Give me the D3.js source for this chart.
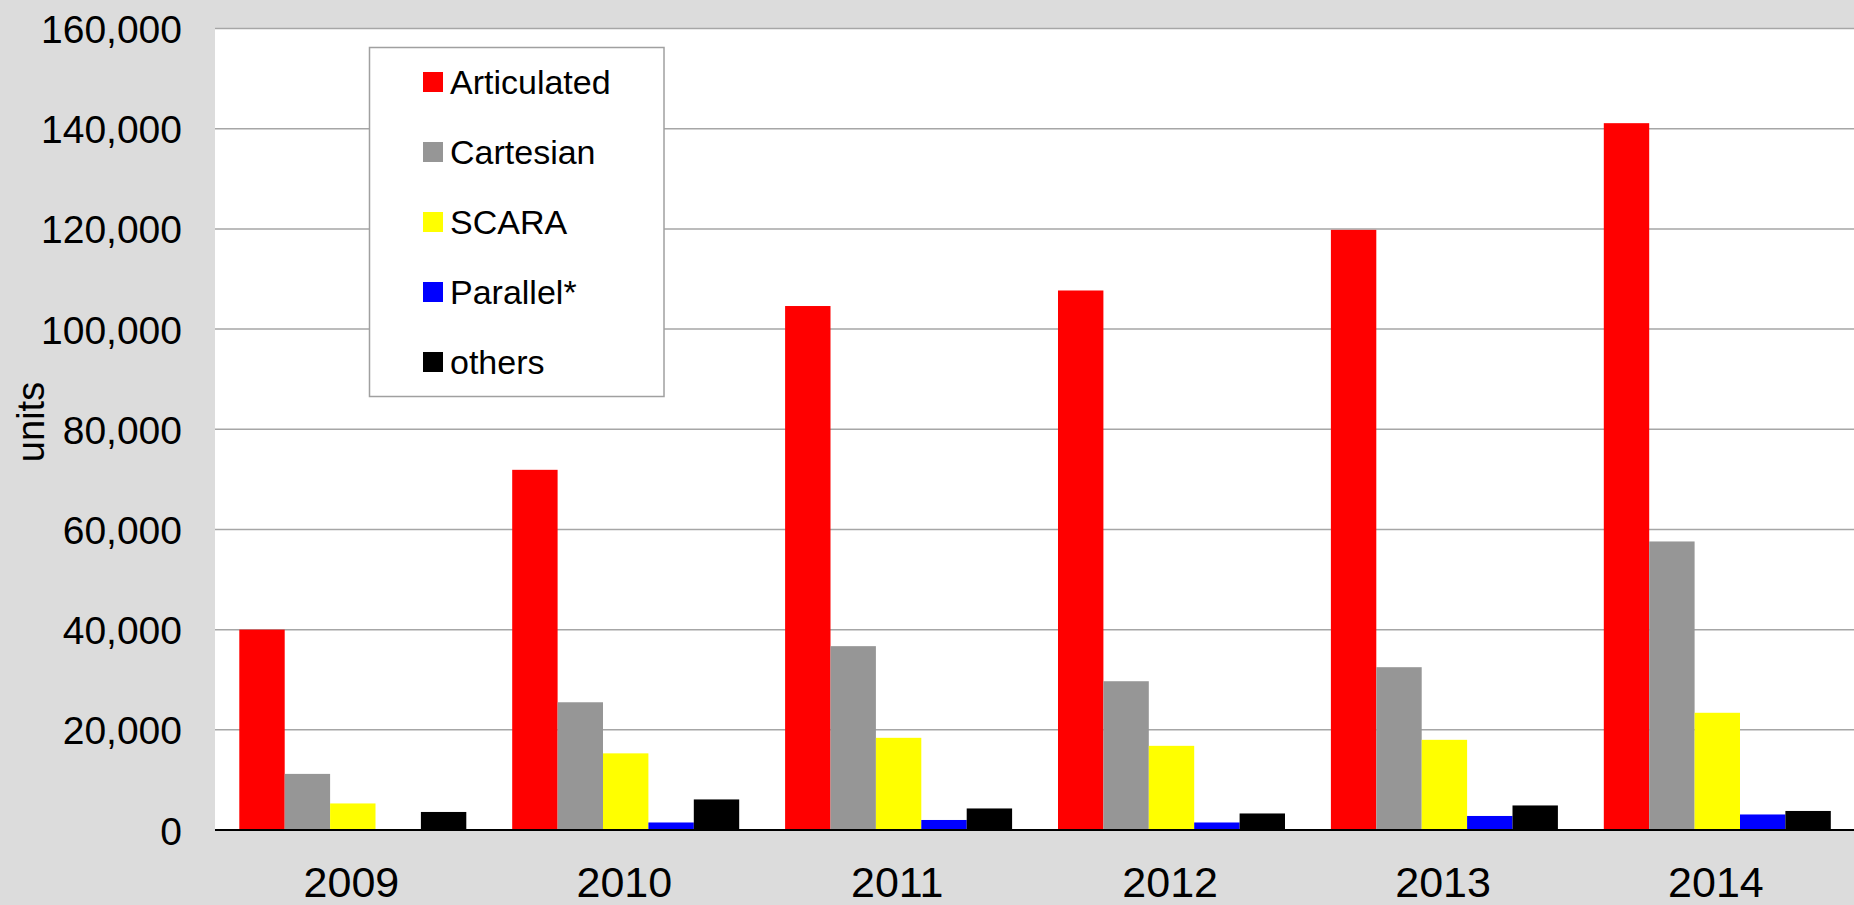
<!DOCTYPE html>
<html>
<head>
<meta charset="utf-8">
<script src="https://cdn.jsdelivr.net/npm/d3@7"></script>
<style>
  html, body { margin: 0; padding: 0; background: #dcdcdc; }
  svg { display: block; }
  text { font-family: "Liberation Sans", Arial, sans-serif; fill: #000; }
</style>
</head>
<body>
<svg id="chart" width="1854" height="905"></svg>
<script>
const years = ["2009", "2010", "2011", "2012", "2013", "2014"];
const seriesNames = ["Articulated", "Cartesian", "SCARA", "Parallel*", "others"];
const seriesColors = ["#ff0000", "#969696", "#ffff00", "#0000ff", "#000000"];
const articulated = [40000, 71900, 104600, 107700, 119800, 141100];
const cartesian   = [11200, 25500, 36700, 29700, 32500, 57600];
const scara       = [5300, 15300, 18400, 16800, 18000, 23400];
const parallel    = [0, 1500, 2000, 1500, 2800, 3100];
const others      = [3600, 6100, 4300, 3300, 4900, 3800];
const yTicks = [0, 20000, 40000, 60000, 80000, 100000, 120000, 140000, 160000];
const yTitle = "units";

const seriesValues = [articulated, cartesian, scara, parallel, others];
const svg = d3.select("#chart");

const plot = { left: 215, right: 1854, top: 28.5, bottom: 830 };
const step = 272.9;

const x0 = d3.scaleBand().domain(years).range([plot.left, plot.left + step * years.length]).padding(0);
const x1 = d3.scaleBand().domain(seriesNames).range([24.3, x0.bandwidth() - 21.6]).padding(0);
const y = d3.scaleLinear().domain([0, 160000]).range([plot.bottom, plot.top]);

// plot background
svg.append("rect")
  .attr("x", plot.left).attr("y", plot.top)
  .attr("width", plot.right - plot.left).attr("height", plot.bottom - plot.top)
  .attr("fill", "#ffffff");

// gridlines
svg.append("g").selectAll("line")
  .data(yTicks.filter(d => d > 0))
  .join("line")
  .attr("x1", plot.left).attr("x2", plot.right)
  .attr("y1", d => y(d)).attr("y2", d => y(d))
  .attr("stroke", "#a6a6a6").attr("stroke-width", 1.5);

// y axis labels
const yAxis = d3.axisLeft(y).tickValues(yTicks).tickFormat(d3.format(",")).tickSize(0).tickPadding(0);
const yg = svg.append("g").attr("transform", "translate(182,0)").call(yAxis);
yg.select(".domain").remove();
yg.selectAll("text")
  .attr("font-size", 39)
  .attr("font-family", "Liberation Sans, Arial, sans-serif")
  .attr("fill", "#000")
  .attr("dy", "0.36em");

// bars
const groups = svg.append("g").selectAll("g")
  .data(years)
  .join("g")
  .attr("transform", d => `translate(${x0(d)},0)`);

groups.selectAll("rect")
  .data((yr, i) => seriesNames.map((s, k) => ({ s, k, v: seriesValues[k][i] })))
  .join("rect")
  .attr("x", d => x1(d.s))
  .attr("width", x1.bandwidth())
  .attr("y", d => y(d.v))
  .attr("height", d => y(0) - y(d.v))
  .attr("fill", d => seriesColors[d.k]);

// zero axis line
svg.append("line")
  .attr("x1", plot.left).attr("x2", plot.right)
  .attr("y1", y(0)).attr("y2", y(0))
  .attr("stroke", "#000").attr("stroke-width", 2);

// x axis labels
const xAxis = d3.axisBottom(x0).tickSize(0).tickPadding(0);
const xg = svg.append("g").attr("transform", `translate(0,${y(0)})`).call(xAxis);
xg.select(".domain").remove();
xg.selectAll("text")
  .attr("font-size", 43)
  .attr("font-family", "Liberation Sans, Arial, sans-serif")
  .attr("fill", "#000")
  .attr("y", 67)
  .attr("dy", 0);

// y title
svg.append("text")
  .attr("transform", "translate(44,422) rotate(-90)")
  .attr("text-anchor", "middle")
  .attr("font-size", 38)
  .text(yTitle);

// legend
const legend = svg.append("g");
legend.append("rect")
  .attr("x", 369.5).attr("y", 47.5).attr("width", 294.5).attr("height", 349)
  .attr("fill", "#ffffff").attr("stroke", "#a0a0a0").attr("stroke-width", 1.5);
const rowY = d3.scalePoint().domain(seriesNames).range([82, 362]);
const items = legend.selectAll("g.item").data(seriesNames).join("g").attr("class", "item");
items.append("rect")
  .attr("x", 423).attr("y", d => rowY(d) - 10)
  .attr("width", 20).attr("height", 20)
  .attr("fill", (d, i) => seriesColors[i]);
items.append("text")
  .attr("x", 450).attr("y", d => rowY(d) + 11.5)
  .attr("font-size", 34)
  .text(d => d);
</script>
</body>
</html>
